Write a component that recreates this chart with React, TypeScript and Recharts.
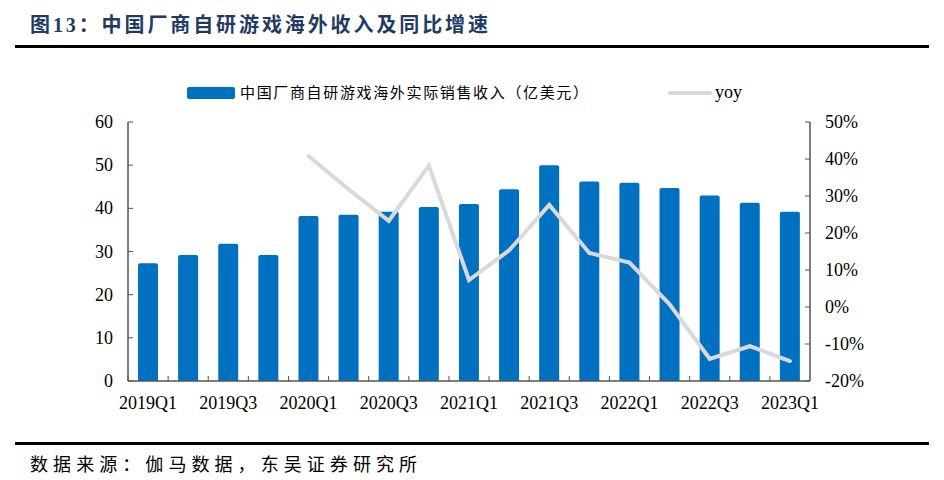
import React from "react";
import { ComposedChart, Bar, Line, XAxis, YAxis } from "recharts";

const categories = [
  "2019Q1", "2019Q2", "2019Q3", "2019Q4",
  "2020Q1", "2020Q2", "2020Q3", "2020Q4",
  "2021Q1", "2021Q2", "2021Q3", "2021Q4",
  "2022Q1", "2022Q2", "2022Q3", "2022Q4",
  "2023Q1",
];
const revenue = [27.3, 29.2, 31.8, 29.2, 38.2, 38.5, 39.2, 40.3, 41.0, 44.4, 50.0, 46.2, 45.9, 44.7, 43.0, 41.3, 39.2];
const yoy: (number | null)[] = [null, null, null, null, 40.8, 31.8, 23.3, 38.2, 7.3, 15.3, 27.6, 14.6, 12.0, 0.7, -14.0, -10.6, -14.6];
const leftTicks = [0, 10, 20, 30, 40, 50, 60];
const rightTicks = [-20, -10, 0, 10, 20, 30, 40, 50];

const data = categories.map((c, i) => ({ cat: c, revenue: revenue[i], yoy: yoy[i] }));

const W = 944;
const H = 480;
const PLOT_LEFT = 128;
const PLOT_RIGHT = 810;
const PLOT_TOP = 122;
const PLOT_BOTTOM = 381;
const HALF_BAND = (PLOT_RIGHT - PLOT_LEFT) / categories.length / 2;
const AXIS_COLOR = "#555555";
const SERIF = "'Liberation Serif', 'Times New Roman', serif";
const CJK = "'Liberation Serif', 'Noto Sans CJK SC', sans-serif";

const XTick = (props: any) => {
  const { x, y, payload, index } = props;
  const i = typeof index === "number" ? index : payload.index;
  return (
    <g>
      <line x1={x - HALF_BAND} x2={x - HALF_BAND} y1={y} y2={y - 5} stroke={AXIS_COLOR} strokeWidth={1} />
      {i % 2 === 0 ? (
        <text x={x} y={y + 27.5} textAnchor="middle" fontFamily={SERIF} fontSize={18} fill="#000">
          {payload.value}
        </text>
      ) : null}
    </g>
  );
};

const LeftTick = (props: any) => {
  const { x, y, payload } = props;
  return (
    <g>
      <line x1={x} x2={x + 5} y1={y} y2={y} stroke={AXIS_COLOR} strokeWidth={1} />
      <text x={x - 15} y={y + 6} textAnchor="end" fontFamily={SERIF} fontSize={18} fill="#000">
        {payload.value}
      </text>
    </g>
  );
};

const RightTick = (props: any) => {
  const { x, y, payload } = props;
  return (
    <g>
      <line x1={x - 5} x2={x} y1={y} y2={y} stroke={AXIS_COLOR} strokeWidth={1} />
      <text x={x + 15} y={y + 6} textAnchor="start" fontFamily={SERIF} fontSize={18} fill="#000">
        {`${payload.value}%`}
      </text>
    </g>
  );
};

export default function App() {
  return (
    <div style={{ position: "absolute", left: 0, top: 0, width: W, height: H, background: "#fff" }}>
      <div style={{ position: "absolute", left: 0, top: 0 }}>
        <ComposedChart
          width={W}
          height={H}
          data={data}
          margin={{ top: PLOT_TOP, right: 0, bottom: H - PLOT_BOTTOM - 30, left: 0 }}
        >
          <XAxis
            dataKey="cat"
            interval={0}
            height={30}
            tickSize={0}
            tickMargin={0}
            tickLine={false}
            axisLine={{ stroke: AXIS_COLOR, strokeWidth: 1.5 }}
            tick={XTick}
          />
          <YAxis
            yAxisId="left"
            orientation="left"
            width={PLOT_LEFT}
            domain={[0, 60]}
            ticks={leftTicks}
            interval={0}
            tickSize={0}
            tickMargin={0}
            tickLine={false}
            axisLine={{ stroke: AXIS_COLOR, strokeWidth: 1.5 }}
            tick={LeftTick}
          />
          <YAxis
            yAxisId="right"
            orientation="right"
            width={W - PLOT_RIGHT}
            domain={[-20, 50]}
            ticks={rightTicks}
            interval={0}
            tickSize={0}
            tickMargin={0}
            tickLine={false}
            axisLine={{ stroke: AXIS_COLOR, strokeWidth: 1.5 }}
            tick={RightTick}
          />
          <Bar yAxisId="left" dataKey="revenue" fill="#0070c0" barSize={20} radius={[2, 2, 0, 0]} isAnimationActive={false} />
          <Line
            yAxisId="right"
            dataKey="yoy"
            stroke="#d9d9d9"
            strokeWidth={4}
            dot={false}
            activeDot={false}
            strokeLinecap="round"
            connectNulls={false}
            isAnimationActive={false}
          />
        </ComposedChart>
      </div>
      <svg width={W} height={H} style={{ position: "absolute", left: 0, top: 0, pointerEvents: "none" }}>
        <text x={30} y={32} fontFamily={CJK} fontWeight="bold" fontSize={20} fill="#1f3b63"
          textLength={458} lengthAdjust="spacing">
          图13：中国厂商自研游戏海外收入及同比增速
        </text>
        <rect x={15} y={45} width={914} height={3} fill="#000" />
        <rect x={187} y={87} width={48} height={12} rx={2} fill="#0070c0" />
        <text x={240} y={98} fontFamily={CJK} fontSize={15} fill="#000"
          textLength={348} lengthAdjust="spacing">
          中国厂商自研游戏海外实际销售收入（亿美元）
        </text>
        <line x1={670} x2={710} y1={93} y2={93} stroke="#d9d9d9" strokeWidth={4} strokeLinecap="round" />
        <text x={715} y={98} fontFamily={SERIF} fontSize={18} fill="#000">
          yoy
        </text>
        <rect x={15} y={442} width={914} height={3} fill="#000" />
        <text x={30} y={471} fontFamily={CJK} fontSize={18} fill="#000" textLength={387} lengthAdjust="spacing">
          数据来源：伽马数据，东吴证券研究所
        </text>
      </svg>
    </div>
  );
}
